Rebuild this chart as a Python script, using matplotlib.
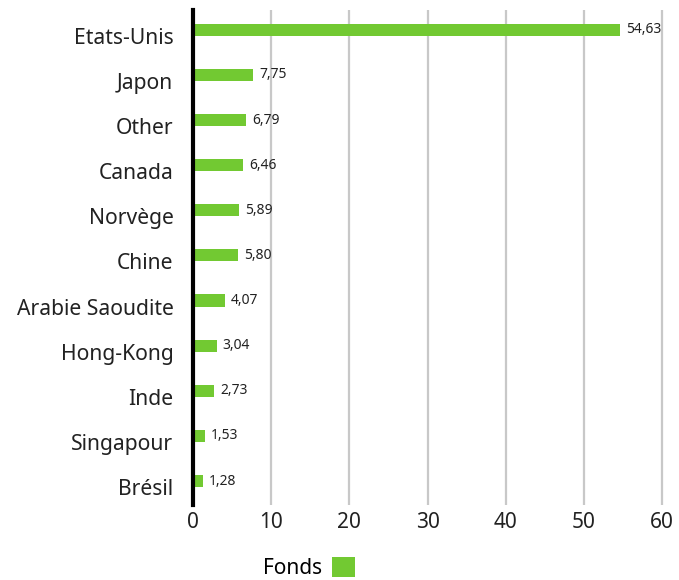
import matplotlib
matplotlib.use("Agg")
import matplotlib.pyplot as plt
from matplotlib.patches import Patch

categories = ["Etats-Unis", "Japon", "Other", "Canada", "Norvège", "Chine",
              "Arabie Saoudite", "Hong-Kong", "Inde", "Singapour", "Brésil"]
values = [54.63, 7.75, 6.79, 6.46, 5.89, 5.80, 4.07, 3.04, 2.73, 1.53, 1.28]
value_labels = ["54,63", "7,75", "6,79", "6,46", "5,89", "5,80", "4,07", "3,04", "2,73", "1,53", "1,28"]
x_ticks = [0, 10, 20, 30, 40, 50, 60]
series_name = "Fonds"

plt.rcParams['font.family'] = ['Noto Sans', 'DejaVu Sans']
green = "#72c932"

fig = plt.figure(figsize=(6.79, 5.80), dpi=100)
ax = fig.add_axes([0.284, 0.129, 0.697, 0.854])

y = list(range(len(categories)))
bar_offset = -0.135  # bars sit slightly above the category centre
yb = [yi + bar_offset for yi in y]
ax.barh(yb, values, height=0.27, color=green, zorder=3)
for yi, v, lab in zip(yb, values, value_labels):
    ax.text(v + 0.8, yi, lab, va='center', ha='left', fontsize=10, color='#222222', zorder=4)

ax.set_yticks(y)
ax.set_yticklabels(categories, fontsize=15.2, color='#222222')
ax.set_xticks(x_ticks)
ax.set_xticklabels([str(t) for t in x_ticks], fontsize=15, color='#222222')
ax.set_xlim(0, 60.5)
ax.set_ylim(10.4, -0.576)

ax.grid(axis='x', color='#c8c8c8', linewidth=1.6, zorder=0)
ax.tick_params(axis='y', length=0, pad=14)
ax.tick_params(axis='x', length=0, pad=5)
for s in ['top', 'right', 'bottom']:
    ax.spines[s].set_visible(False)
ax.spines['left'].set_linewidth(3)
ax.spines['left'].set_color('black')
ax.spines['left'].set_zorder(5)

handle = Patch(facecolor=green, edgecolor='none')
fig.legend([handle], [series_name], loc='lower center', bbox_to_anchor=(0.455, 0.0),
           frameon=False, markerfirst=False, fontsize=15, handlelength=1.1, handleheight=1.1,
           handletextpad=0.5, borderpad=0.05, borderaxespad=0.0)

fig.savefig("out.png", dpi=100)
